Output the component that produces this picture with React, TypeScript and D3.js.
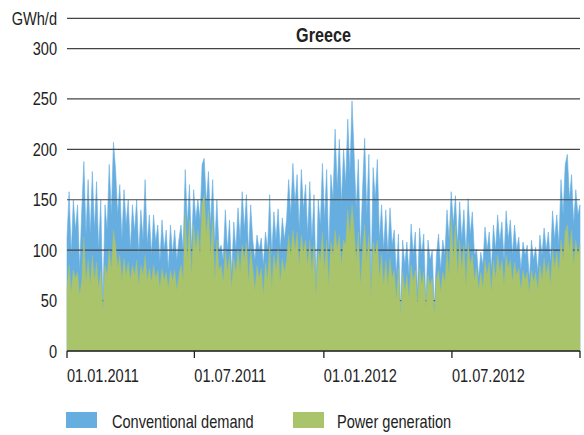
import React from "react";
import * as d3 from "d3";

// 3-day sampling starting 01.01.2011
const START_DATE = "2011-01-01";
const STEP_DAYS = 3;

const conventionalDemand: number[] = [
  112, 158, 95, 150, 120, 145, 80, 140, 188, 115, 170,
  115, 178, 120, 168, 100, 150, 43, 145, 120,
  185, 135, 207, 180, 135, 165, 110, 160, 125, 150,
  100, 145, 118, 150, 95, 140, 110, 170, 105, 135,
  95, 135, 108, 125, 88, 130, 100, 120, 80, 125, 95,
  120, 90, 110, 125, 100, 180, 125, 165, 100, 160,
  130, 150, 130, 185, 191, 145, 178, 125, 170, 105,
  150, 100, 105, 90, 140, 100, 130, 75, 128, 100, 142,
  110, 158, 120, 155, 95, 145, 110, 90, 115, 100, 112, 85, 118, 100, 155, 95, 138, 110, 141, 100, 132, 110,
  130, 170, 135, 186, 145, 175, 120, 180, 140, 165,
  115, 168, 110, 155, 65, 150, 125, 186,
  130, 180, 95, 175, 150, 220, 160, 210, 145, 200,
  165, 230, 175, 248, 195, 140, 190, 100, 160, 211,
  135, 195, 65, 182, 150, 190, 110, 145, 100, 140,
  95, 142, 105, 120, 75, 116, 38, 110, 85, 108,
  75, 126, 95, 118, 55, 122, 95, 116, 45, 110,
  90, 100, 41, 95, 116, 80, 110, 95, 140, 110, 158,
  125, 154, 105, 148, 110, 140, 95, 151, 115, 138,
  95, 101, 72, 98, 85, 123, 100, 118, 80, 125,
  100, 135, 108, 128, 90, 139, 110, 130, 95, 125, 100,
  113, 80, 108, 95, 105, 70, 110, 90, 103, 78,
  115, 95, 122, 100, 118, 88, 139, 110, 135, 105,
  170, 135, 185, 195, 150, 175, 125, 160, 135, 145,
];

const powerGeneration: number[] = [
  62, 85, 58, 80, 72, 78, 55, 70, 113, 68, 90,
  65, 95, 70, 88, 62, 80, 40, 85, 75,
  100, 80, 120, 105, 82, 95, 70, 92, 75, 88,
  70, 85, 75, 90, 65, 85, 75, 95, 70, 82,
  68, 85, 72, 80, 62, 82, 70, 78, 62, 80, 70,
  80, 60, 75, 85, 70, 137, 90, 130, 75, 125,
  100, 120, 95, 145, 155, 115, 140, 95, 130, 70,
  110, 80, 85, 68, 100, 78, 95, 62, 92, 78, 100,
  78, 105, 90, 108, 68, 100, 82, 60, 85, 72, 82, 55, 88, 70, 105, 62, 95, 80, 100, 68, 92, 78,
  90, 115, 95, 120, 100, 118, 85, 115, 98, 110,
  85, 110, 78, 105, 55, 100, 88, 118,
  80, 110, 65, 108, 95, 120, 100, 115, 85, 110,
  105, 140, 115, 145, 120, 90, 118, 65, 100, 125,
  90, 115, 55, 108, 95, 110, 72, 95, 65, 90,
  65, 92, 72, 80, 50, 82, 35, 78, 58, 75,
  52, 85, 68, 80, 45, 82, 65, 78, 42, 75,
  65, 72, 36, 70, 80, 58, 78, 68, 100, 75, 133,
  90, 125, 75, 110, 80, 105, 65, 108, 85, 95,
  70, 82, 60, 78, 62, 90, 75, 88, 58, 90,
  72, 95, 78, 90, 65, 95, 82, 90, 68, 88, 75,
  82, 60, 80, 70, 78, 58, 80, 68, 78, 60,
  85, 70, 92, 75, 88, 65, 100, 82, 98, 78,
  110, 90, 118, 125, 100, 120, 85, 110, 95, 105,
];

const yTicks: number[] = [0, 50, 100, 150, 200, 250, 300];
const xTickDates: string[] = ["2011-01-01", "2011-07-01", "2012-01-01", "2012-07-01"];
const xTickLabels: string[] = ["01.01.2011", "01.07.2011", "01.01.2012", "01.07.2012"];
const X_END = "2012-12-30";
const Y_MAX = 330;
const TITLE = "Greece";
const UNIT = "GWh/d";
const seriesNames: string[] = ["Conventional demand", "Power generation"];

const BLUE = "#66aee0";
const GREEN = "#aac46c";
const FONT = "'Liberation Sans', Arial, sans-serif";
const SX = 0.81;

function T(props: { x: number; y: number; anchor?: string; size?: number; bold?: boolean; sx?: number; children: React.ReactNode }) {
  const { x, y, anchor = "start", size = 18, bold = false, sx = SX, children } = props;
  return (
    <g transform={`translate(${x},${y}) scale(${sx},1)`}>
      <text x={0} y={0} textAnchor={anchor as any} fontSize={size} fontWeight={bold ? "bold" : "normal"} fill="#222" fontFamily={FONT}>
        {children}
      </text>
    </g>
  );
}

export default function App() {
  const W = 584, H = 435;
  const left = 67, right = 580, top = 18.3, bottom = 351;
  const parse = d3.utcParse("%Y-%m-%d");
  const start = parse(START_DATE)!;
  const x = d3.scaleUtc().domain([start, parse(X_END)!]).range([left, right]);
  const y = d3.scaleLinear().domain([0, Y_MAX]).range([bottom, top]);

  const dates = conventionalDemand.map((_, i) => d3.utcDay.offset(start, i * STEP_DAYS));

  const area = (vals: number[]) =>
    d3.area<number>()
      .x((_, i) => x(dates[i]))
      .y0(y(0))
      .y1((d) => y(d))
      .curve(d3.curveLinear)(vals) || "";

  const gridVals = [...yTicks.filter((v) => v > 0), Y_MAX];

  return (
    <svg width={W} height={H} style={{ position: "absolute", left: 0, top: 0 }}>
      <rect width={W} height={H} fill="#fff" />
      <path d={area(conventionalDemand)} fill={BLUE} stroke={BLUE} strokeWidth={0.6} />
      {gridVals.map((v) => (
        <line key={v} x1={left} x2={right} y1={y(v)} y2={y(v)} stroke="#444" strokeWidth={1.2} />
      ))}
      <path d={area(powerGeneration)} fill={GREEN} stroke={GREEN} strokeWidth={0.4} />
      {yTicks.map((v) => (
        <T key={v} x={57} y={y(v) + 6.5} anchor="end">{v}</T>
      ))}
      <T x={57} y={y(Y_MAX) + 7} anchor="end">{UNIT}</T>
      <T x={(left + right) / 2} y={42} anchor="middle" size={19.5} bold sx={0.83}>{TITLE}</T>
      <line x1={left} x2={right} y1={bottom} y2={bottom} stroke="#222" strokeWidth={1.5} />
      {xTickDates.map((d, i) => {
        const px = x(parse(d)!);
        return (
          <g key={d}>
            <line x1={px} x2={px} y1={bottom} y2={bottom + 7} stroke="#222" strokeWidth={1.3} />
            <T x={px} y={382}>{xTickLabels[i]}</T>
          </g>
        );
      })}
      <line x1={right} x2={right} y1={bottom} y2={bottom + 7} stroke="#222" strokeWidth={1.3} />
      <rect x={66} y={412} width={31} height={16} fill={BLUE} />
      <T x={112} y={428}>{seriesNames[0]}</T>
      <rect x={293} y={412} width={31} height={16} fill={GREEN} />
      <T x={337} y={428}>{seriesNames[1]}</T>
    </svg>
  );
}
